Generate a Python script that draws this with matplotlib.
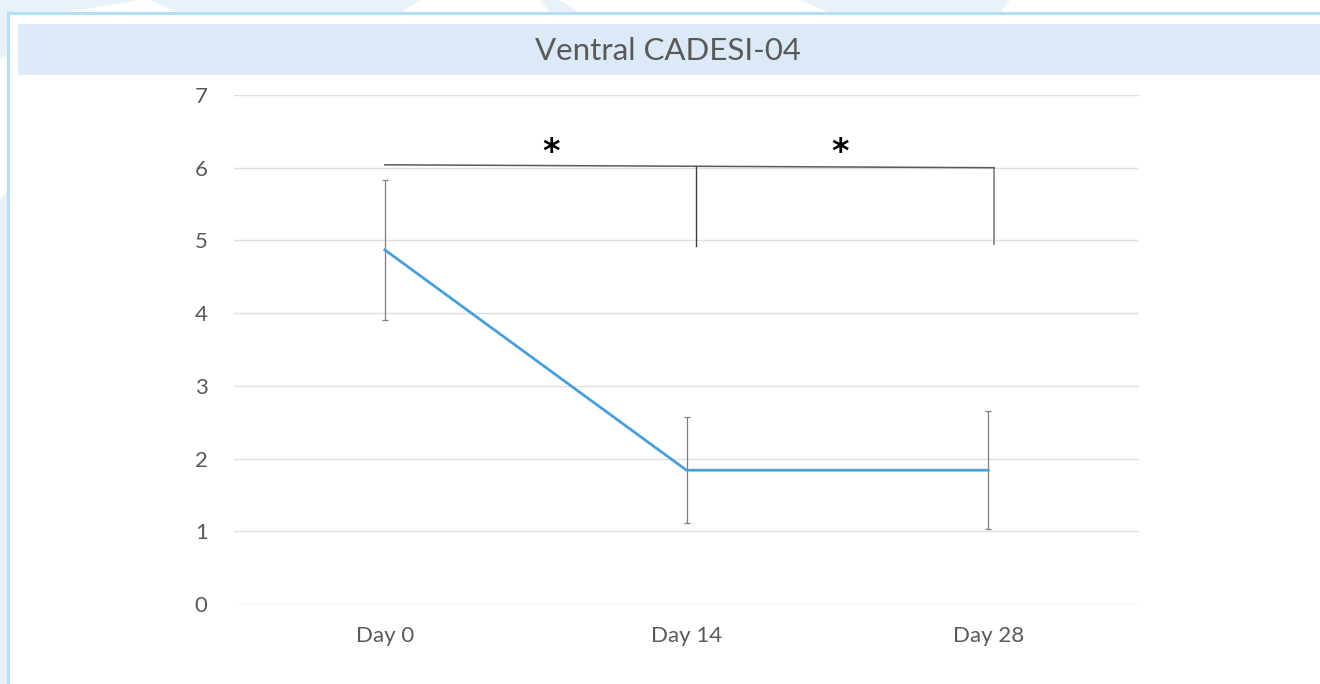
import numpy as np
import matplotlib.pyplot as plt
from matplotlib.patches import Rectangle, Polygon

# data
days = ['Day 0', 'Day 14', 'Day 28']
means = [4.87, 1.84, 1.84]
sd = [0.96, 0.73, 0.81]
yticks = [0, 1, 2, 3, 4, 5, 6, 7]

# significance bracket (x in category units, y in data units)
bracket_x = [0.0, 1.03, 2.02]
bracket_y = [6.04, 6.02, 6.0]
bracket_drop = [4.92, 4.95]
stars_x = [0.55, 1.51]
stars_y = 5.98

plt.rcParams['font.family'] = ['Lato', 'DejaVu Sans']

W, H = 1320, 684
fig = plt.figure(figsize=(W / 100, H / 100), dpi=100)
fig.patch.set_facecolor('white')

# faint watermark shapes outside the frame
bg = fig.add_axes([0, 0, 1, 1], zorder=-2)
bg.set_xlim(0, W)
bg.set_ylim(H, 0)
bg.axis('off')
for pts in [[(0, 0), (140, 0), (60, 13), (0, 60)],
            [(150, 0), (420, 0), (400, 13), (180, 13)],
            [(540, 0), (560, 0), (580, 13), (550, 13)],
            [(800, 0), (1010, 0), (1000, 13), (830, 13)],
            [(0, 200), (8, 190), (8, 684), (0, 684)]]:
    bg.add_patch(Polygon(pts, closed=True, color='#EAF2F9', lw=0))
# frame and title band
bg.add_patch(Rectangle((8, 13), W, H, fill=True, facecolor='white',
                       edgecolor='#B5DDF3', lw=2.2))
bg.add_patch(Rectangle((18, 24), W, 51, color='#DCEAF7', lw=0))
bg.text(668, 51, 'Ventral CADESI-04', fontsize=22.5, color='#595959',
        ha='center', va='center')

ax = fig.add_axes([234 / W, 1 - 604 / H, (1139 - 234) / W, (604 - 95) / H])
ax.set_facecolor('none')
x = np.arange(len(days))
ax.plot(x, means, color='#4A9FDA', lw=2, zorder=3)
ax.errorbar(x, means, yerr=sd, fmt='none', ecolor='#7F7F7F', elinewidth=0.9,
            capsize=2.5, capthick=0.9, zorder=2)

# bracket
ax.plot(bracket_x, bracket_y, color='#595959', lw=1.1, zorder=4)
ax.plot([bracket_x[1]] * 2, [bracket_y[1], bracket_drop[0]], color='#3F3F3F', lw=1)
ax.plot([bracket_x[2]] * 2, [bracket_y[2], bracket_drop[1]], color='#7F7F7F', lw=1.2)
for sx in stars_x:
    ax.text(sx, stars_y, '*', fontsize=24, fontweight='bold', color='black',
            ha='center', va='bottom', family='DejaVu Sans')

ax.set_xlim(-0.5, 2.5)
ax.set_ylim(0, 7)
ax.set_yticks(yticks)
ax.set_xticks(x)
ax.set_xticklabels(days)
ax.grid(axis='y', color='#E0E0E0', lw=1)
ax.set_axisbelow(True)
for s in ax.spines.values():
    s.set_visible(False)
ax.tick_params(length=0, labelsize=16, colors='#595959')
ax.tick_params(axis='y', pad=19)
ax.tick_params(axis='x', pad=16)

fig.savefig('out.png', dpi=100, facecolor='white')
